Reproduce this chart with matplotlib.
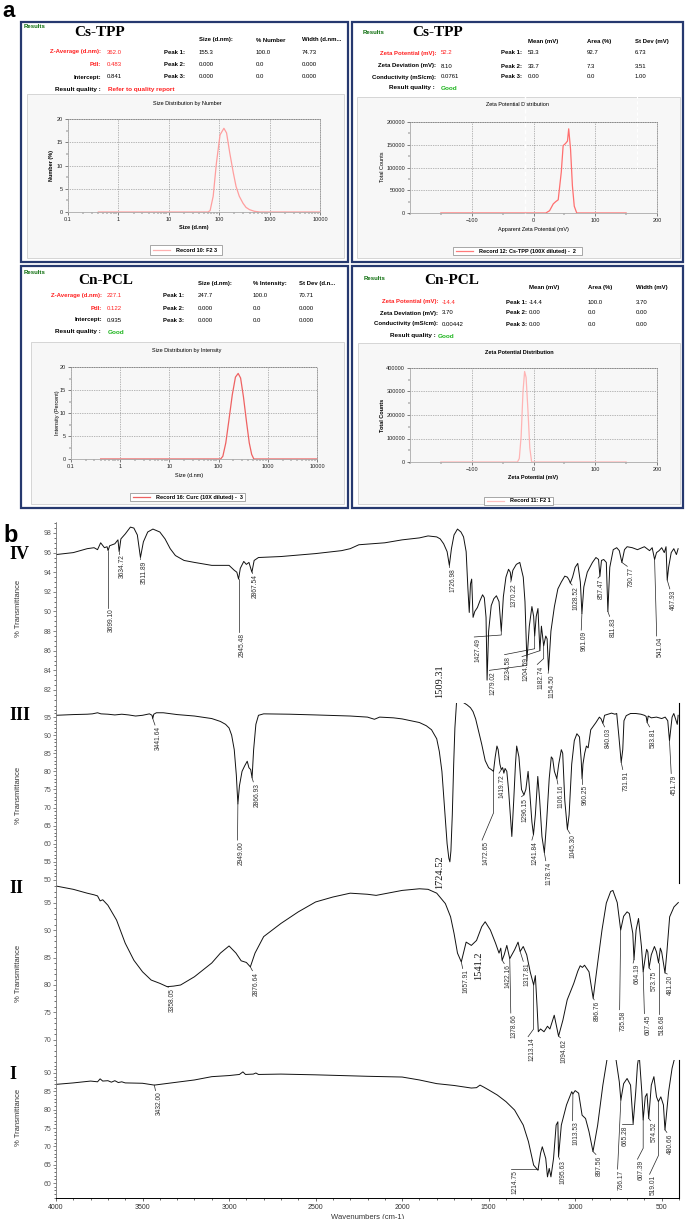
import numpy as np
import matplotlib
matplotlib.use("Agg")
import matplotlib.pyplot as plt
from matplotlib.patches import Rectangle
from matplotlib.lines import Line2D
from matplotlib.transforms import offset_copy
from matplotlib.ticker import MultipleLocator

plt.rcParams['font.family'] = ['Liberation Sans', 'DejaVu Sans']

# ---------------- a: size / zeta data ----------------
num_size = [0.4, 60, 66, 76, 88, 104, 124, 140, 162, 190, 216, 250, 296, 340, 400, 500, 640, 10000]
num_pct = [0, 0, 0.3, 3.4, 10.5, 16.6, 18.0, 17.0, 12.7, 8.5, 5.5, 3.4, 1.9, 1.0, 0.5, 0.15, 0, 0]
int_size = [0.4, 110, 122, 140, 160, 190, 220, 250, 280, 320, 370, 420, 470, 520, 10000]
int_pct = [0, 0, 0.6, 3.5, 8.0, 14.0, 17.8, 18.6, 17.6, 13.5, 8.0, 3.5, 1.0, 0, 0]
zeta_cs_mv = [-150, 20, 26, 32, 36, 40, 45, 48, 52, 55, 57, 60, 63, 66, 70, 150]
zeta_cs_counts = [0, 0, 5000, 20000, 25000, 29000, 90000, 148000, 153000, 158000, 185000,
                  140000, 60000, 15000, 0, 0]
zeta_cn_mv = [-150, -26, -23, -20, -17, -14.4, -12, -9, -6, -3, 150]
zeta_cn_counts = [0, 0, 15000, 110000, 300000, 385000, 360000, 220000, 60000, 0, 0]

size_labels = ['Z-Average (d.nm):', 'PdI:', 'Intercept:']
zeta_labels = ['Zeta Potential (mV):', 'Zeta Deviation (mV):', 'Conductivity (mS/cm):']
cs_size_values = ['362.0', '0.483', '0.841']
cs_size_heads = ['Size (d.nm):', '% Number', 'Width (d.nm...']
cs_size_peaks = [['155.3', '100.0', '74.73'], ['0.000', '0.0', '0.000'], ['0.000', '0.0', '0.000']]
cs_zeta_values = ['52.2', '8.10', '0.0761']
cs_zeta_heads = ['Mean (mV)', 'Area (%)', 'St Dev (mV)']
cs_zeta_peaks = [['53.3', '92.7', '6.73'], ['33.7', '7.3', '3.51'], ['0.00', '0.0', '1.00']]
cn_size_values = ['227.1', '0.122', '0.935']
cn_size_heads = ['Size (d.nm):', '% Intensity:', 'St Dev (d.n...']
cn_size_peaks = [['247.7', '100.0', '70.71'], ['0.000', '0.0', '0.000'], ['0.000', '0.0', '0.000']]
cn_zeta_values = ['-14.4', '3.70', '0.00442']
cn_zeta_heads = ['Mean (mV)', 'Area (%)', 'Width (mV)']
cn_zeta_peaks = [['-14.4', '100.0', '3.70'], ['0.00', '0.0', '0.00'], ['0.00', '0.0', '0.00']]

# ---------------- b: FTIR spectra ----------------
iv_wn = [4000, 3900, 3820, 3780, 3760, 3742, 3720, 3705, 3699, 3690, 3660, 3642, 3635, 3625, 3600,
         3570, 3550, 3530, 3512, 3495, 3470, 3440, 3400, 3370, 3340, 3310, 3260, 3200, 3100, 3000,
         2970, 2955, 2945, 2935, 2915, 2900, 2885, 2868, 2855, 2830, 2700, 2500, 2350, 2300, 2250,
         2100, 2000, 1900, 1850, 1800, 1780, 1760, 1740, 1727, 1715, 1700, 1680, 1660, 1645, 1630,
         1620, 1612, 1605, 1598, 1590, 1580, 1565, 1550, 1535, 1525, 1515, 1509, 1500, 1485, 1470,
         1455, 1440, 1427, 1415, 1400, 1385, 1375, 1370, 1360, 1340, 1320, 1300, 1290, 1279, 1265,
         1250, 1240, 1234, 1225, 1215, 1204, 1195, 1182, 1170, 1162, 1154, 1140, 1120, 1100, 1080,
         1060, 1045, 1035, 1028, 1015, 1000, 985, 970, 961, 950, 930, 900, 880, 865, 857,
         848, 835, 820, 811, 800, 780, 760, 745, 730, 715, 700, 670, 640, 600, 570,
         555, 541, 530, 515, 500, 485, 475, 468, 460, 445, 430, 415, 405]
iv_t = [95.8, 96.0, 96.4, 96.5, 96.3, 97.0, 96.5, 96.6, 96.2, 96.7, 96.9, 97.3, 96.1, 97.4, 97.9,
        98.6, 98.5, 97.8, 95.5, 97.1, 98.1, 98.4, 98.1, 97.4, 96.4, 95.7, 95.2, 95.0, 94.7, 94.7,
        94.2, 94.0, 93.3, 94.4, 95.1, 94.8, 95.0, 94.0, 95.2, 95.5, 95.6, 95.9, 96.2, 96.4, 96.8,
        97.0, 97.3, 97.5, 97.7, 97.6, 97.4, 96.9, 96.1, 94.7, 96.4, 97.8, 98.4, 98.1, 97.6, 96.1,
        92.4, 89.9, 92.8, 93.3, 89.4, 90.0, 90.4, 91.1, 91.7, 91.4, 89.4, 83.0, 88.0, 90.6, 91.3,
        91.6, 91.0, 88.0, 91.5, 93.5, 94.3, 94.0, 93.2, 94.2, 94.8, 95.0, 93.5, 91.0, 85.0, 88.5,
        90.5, 89.5, 87.5, 89.5, 90.3, 86.0, 88.5, 86.5, 87.5, 87.2, 84.0, 88.0, 90.5, 92.3, 93.0,
        93.6, 93.5, 93.2, 92.9, 93.5, 94.5, 94.9, 93.0, 89.8, 92.5, 94.0, 95.0, 95.5, 95.3, 93.6,
        95.2, 95.3, 95.0, 90.0, 94.5, 96.3, 96.5, 96.2, 95.0, 96.3, 96.6, 96.5, 96.3, 96.6, 96.2,
        96.5, 95.3, 96.0, 96.2, 96.5, 96.0, 96.6, 93.2, 94.5, 96.0, 96.4, 95.8, 96.4]

iii_wn = [4000, 3900, 3820, 3790, 3760, 3740, 3700, 3660, 3620, 3580, 3540, 3500, 3460, 3445, 3441,
          3435, 3420, 3380, 3300, 3200, 3100, 3050, 3020, 3000, 2985, 2970, 2958, 2949, 2940, 2925,
          2910, 2895, 2885, 2875, 2867, 2858, 2845, 2830, 2800, 2650, 2500, 2300, 2200, 2160, 2130,
          2050, 2000, 1950, 1900, 1860, 1830, 1800, 1785, 1770, 1755, 1740, 1730, 1724, 1718, 1710,
          1702, 1695, 1685, 1665, 1645, 1625, 1605, 1590, 1575, 1560, 1540, 1520, 1500, 1485, 1472,
          1462, 1452, 1445, 1435, 1427, 1419, 1412, 1405, 1395, 1385, 1375, 1366, 1355, 1345, 1338,
          1325, 1310, 1296, 1285, 1272, 1262, 1250, 1241, 1230, 1216, 1205, 1192, 1178, 1165, 1150,
          1138, 1130, 1120, 1106, 1095, 1080, 1072, 1060, 1045, 1035, 1020, 1005, 990, 975, 965,
          960, 955, 945, 935, 925, 910, 880, 860, 850, 840, 830, 810, 790, 770, 760,
          748, 734, 725, 718, 705, 680, 650, 620, 600, 590, 584, 578, 560, 530, 500,
          480, 465, 455, 448, 440, 430, 420, 410, 405]
iii_t = [95.5, 95.7, 95.8, 95.9, 96.2, 95.9, 95.8, 95.6, 95.8, 95.6, 95.3, 95.5, 95.9, 95.5, 94.6,
         95.8, 96.2, 96.2, 95.7, 95.3, 94.6, 93.8, 93.0, 92.0, 90.0, 86.0, 79.0, 71.0, 76.0, 80.0,
         81.5, 82.8, 81.0, 80.5, 78.2, 86.0, 93.0, 95.5, 95.9, 95.8, 95.6, 95.3, 95.0, 94.4, 95.0,
         94.8, 94.5, 94.0, 93.5, 92.6, 91.5, 89.0, 85.5, 80.0, 70.0, 60.0, 56.0, 55.0, 58.0, 68.0,
         82.0, 92.0, 99.5, 99.5, 99.0, 98.4, 97.6, 96.5, 94.5, 91.5, 87.5, 83.0, 81.0, 80.5, 80.0,
         84.0, 87.0, 86.0, 82.0, 80.5, 81.0, 79.5, 80.8, 80.0, 75.0, 68.0, 62.0, 72.0, 82.0, 87.0,
         84.0, 75.0, 73.5, 75.0, 80.0, 74.0, 66.0, 62.5, 68.0, 78.6, 72.0, 62.0, 57.5, 66.0, 78.0,
         84.0, 83.5, 80.0, 78.0, 82.0, 86.0, 85.0, 72.0, 64.0, 68.0, 82.0, 88.5, 90.4, 89.5, 83.0,
         77.9, 82.0, 85.0, 87.0, 86.5, 91.5, 93.5, 95.0, 94.5, 93.3, 95.5, 95.8, 96.1, 95.8, 96.0,
         90.0, 82.5, 86.0, 94.0, 95.4, 96.0, 96.0, 95.8, 95.5, 95.2, 93.5, 95.3, 94.8, 95.0, 94.6,
         95.0, 94.0, 88.5, 91.5, 95.0, 96.0, 94.5, 93.0, 95.5]

ii_wn = [4000, 3900, 3820, 3780, 3760, 3745, 3730, 3715, 3700, 3650, 3600, 3550, 3500, 3450, 3400,
         3358, 3320, 3280, 3200, 3100, 3050, 3000, 2960, 2930, 2900, 2877, 2850, 2800, 2750, 2700,
         2600, 2500, 2400, 2300, 2200, 2150, 2100, 2000, 1900, 1850, 1800, 1750, 1720, 1700, 1680,
         1658, 1630, 1600, 1570, 1540, 1520, 1490, 1460, 1440, 1430, 1422, 1410, 1395, 1378, 1350,
         1330, 1318, 1300, 1280, 1260, 1240, 1230, 1220, 1213, 1200, 1180, 1160, 1146, 1121, 1096,
         1071, 1046, 1008, 985, 971, 958, 946, 920, 896, 870, 845, 820, 795, 782, 757,
         737, 720, 700, 687, 667, 660, 648, 634, 617, 607, 595, 587, 580, 573, 560,
         542, 530, 518, 508, 500, 481, 470, 454, 429, 404]
ii_t = [98.0, 97.4, 96.7, 96.4, 96.2, 95.3, 95.5, 95.0, 94.5, 91.8, 87.6, 84.5, 82.4, 80.9, 80.3,
        79.7, 79.8, 80.0, 81.5, 84.0, 85.8, 87.1, 85.8, 84.4, 84.1, 83.3, 85.8, 88.8, 90.0, 91.2,
        93.3, 95.1, 96.0, 96.7, 96.5, 96.3, 96.6, 97.2, 97.5, 97.4, 96.7, 94.8, 92.4, 89.4, 85.8,
        84.2, 87.8, 87.2, 88.1, 90.6, 91.5, 90.0, 87.6, 85.8, 86.7, 84.5, 85.5, 87.2, 84.8, 86.4,
        87.8, 86.1, 87.0, 85.5, 82.4, 80.0, 81.7, 76.0, 71.5, 72.0, 71.5, 72.5, 72.0, 74.5, 70.7,
        73.6, 77.3, 80.3, 82.5, 83.5, 83.2, 83.6, 82.4, 77.6, 84.0, 90.0, 94.9, 97.0, 97.2, 95.0,
        90.0, 92.5, 93.3, 93.0, 89.4, 84.6, 90.0, 92.1, 87.0, 82.4, 85.0, 86.5, 86.0, 83.1, 85.5,
        87.0, 86.0, 84.0, 86.7, 86.0, 82.2, 86.0, 92.4, 94.2, 95.0]

i_wn = [4000, 3900, 3800, 3760, 3745, 3730, 3700, 3680, 3660, 3640, 3620, 3600, 3500, 3432, 3300,
        3200, 3100, 3000, 2940, 2920, 2905, 2860, 2845, 2830, 2700, 2500, 2200, 2000, 1900, 1800,
        1700, 1600, 1570, 1550, 1530, 1500, 1450, 1400, 1350, 1300, 1270, 1240, 1215, 1200, 1190,
        1170, 1160, 1150, 1140, 1125, 1110, 1100, 1096, 1080, 1050, 1020, 1013, 1000, 980, 960,
        940, 920, 897, 870, 840, 815, 790, 765, 745, 736, 720, 700, 680, 665, 650,
        640, 630, 615, 607, 595, 585, 575, 560, 545, 530, 519, 505, 490, 481, 460,
        440, 420, 405]
i_t = [86.9, 87.3, 87.8, 87.6, 88.4, 87.8, 87.9, 87.5, 87.9, 87.4, 87.6, 87.3, 87.2, 86.7, 87.5,
       88.1, 89.0, 89.3, 89.6, 90.3, 89.6, 89.7, 90.0, 89.6, 89.7, 89.5, 89.1, 88.9, 88.1, 87.1,
       86.6, 85.9, 86.0, 86.7, 86.2, 85.4, 84.0, 82.2, 79.9, 75.8, 71.3, 64.9, 63.5, 68.1, 69.9,
       66.7, 61.7, 64.0, 61.7, 66.7, 75.8, 76.7, 67.2, 75.8, 81.3, 84.9, 84.3, 85.2, 84.5, 78.5,
       77.6, 74.0, 68.6, 75.8, 86.7, 94.0, 97.0, 94.0, 87.6, 82.6, 87.1, 88.5, 86.7, 76.2, 84.9,
       92.2, 95.0, 84.9, 77.2, 83.5, 84.4, 77.6, 86.7, 89.0, 83.5, 82.2, 83.5, 81.3, 74.5, 84.9,
       91.3, 95.0, 95.5]

# peak labels (text, peak wavenumber)
iv_peaks = [('3699.10', 3699), ('3634.72', 3635), ('3511.89', 3512), ('2945.48', 2945),
            ('2867.54', 2868), ('1726.98', 1727), ('1427.49', 1427), ('1370.22', 1370),
            ('1279.02', 1279), ('1234.58', 1234), ('1204.59', 1204), ('1182.74', 1182),
            ('1154.50', 1154), ('1028.52', 1028), ('961.09', 961), ('857.47', 857),
            ('811.83', 811), ('730.77', 730), ('541.04', 541), ('467.93', 468)]
iii_peaks = [('3441.64', 3441), ('2949.00', 2949), ('2866.93', 2867), ('1472.65', 1472),
             ('1419.72', 1419), ('1296.15', 1296), ('1241.84', 1241), ('1178.74', 1178),
             ('1106.16', 1106), ('1045.30', 1045), ('960.25', 960), ('840.03', 840),
             ('731.91', 734), ('583.81', 584), ('451.79', 455)]
ii_peaks = [('3358.05', 3358), ('2876.64', 2877), ('1657.91', 1658), ('1422.16', 1422),
            ('1378.66', 1378), ('1317.81', 1318), ('1213.14', 1240), ('1094.62', 1096),
            ('896.76', 896), ('735.58', 737), ('664.19', 660), ('607.45', 607),
            ('573.75', 573), ('518.68', 518), ('481.20', 481)]
i_peaks = [('3432.00', 3432), ('1214.75', 1214), ('1095.63', 1096), ('1013.53', 1013),
           ('897.56', 897), ('736.17', 736), ('665.28', 665), ('607.39', 607),
           ('574.52', 575), ('519.01', 519), ('480.66', 481)]
# label placement: (leader end wavenumber, text top, bend level or None)
iv_place = [(3699, 90.4, None), (3635, 95.9, None), (3512, 95.3, None), (2945, 87.9, None),
            (2868, 93.9, None), (1727, 94.5, None), (1583, 87.4, 87.6), (1372, 93.0, None),
            (1496, 84.0, 84.5), (1408, 85.6, 86.2), (1307, 85.4, 86.0), (1219, 84.6, 85.2),
            (1156, 83.7, None), (1018, 92.7, None), (965, 88.1, None), (868, 93.4, None),
            (801, 89.5, None), (699, 94.6, None), (529, 87.5, None), (453, 92.3, None)]
iii_place = [(3428, 92.8, None), (2951, 61.0, None), (2860, 77.1, None), (1538, 61.0, 68.5),
             (1440, 79.5, None), (1310, 73.0, None), (1250, 61.0, None), (1170, 55.3, None),
             (1100, 76.5, None), (1030, 62.8, None), (960, 76.6, None), (830, 92.3, None),
             (725, 80.5, None), (570, 92.3, None), (445, 79.4, None)]
ii_place = [(3350, 79.6, None), (2865, 82.6, None), (1650, 83.0, None), (1410, 83.9, None),
            (1372, 74.9, None), (1300, 84.3, None), (1272, 70.6, 72.0), (1085, 70.4, None),
            (890, 77.3, None), (743, 75.5, None), (665, 84.0, None), (600, 74.8, None),
            (565, 82.8, None), (518, 74.8, None), (468, 82.0, None)]
i_place = [(3425, 85.2, None), (1370, 63.8, 63.8), (1090, 66.5, None), (1015, 77.0, None),
           (880, 67.8, None), (755, 63.8, None), (730, 76.0, 76.0), (640, 66.5, 69.5),
           (565, 77.0, None), (570, 62.4, 67.5), (470, 73.8, None)]
# hand-written larger labels: (text, wavenumber, top)
iv_serif = [('1509.31', 1786, 84.6)]
iii_serif = [('1724.52', 1781, 56.9)]
ii_serif = [('1541.2', 1560, 86.1)]

W, H = 685, 1219
RED, GREEN, NAVY = '#ff2020', '#1fb51f', '#26396f'

fig = plt.figure(figsize=(W / 100, H / 100), dpi=100)


def frame(x0, y0, x1, y1):
    return [x0 / W, 1 - y1 / H, (x1 - x0) / W, (y1 - y0) / H]


def ftext(x, y, s, **kw):
    kw.setdefault('va', 'center')
    kw.setdefault('zorder', 6)
    fig.text(x / W, 1 - y / H, s, **kw)


def fbox(x0, y0, x1, y1, **kw):
    fig.add_artist(Rectangle((x0 / W, 1 - y1 / H), (x1 - x0) / W, (y1 - y0) / H,
                             transform=fig.transFigure, **kw))


def fline(xs, ys, **kw):
    fig.add_artist(Line2D([x / W for x in xs], [1 - y / H for y in ys],
                          transform=fig.transFigure, **kw))


def table(L, name, labels, values, colors, heads, peaks, quality, qcol):
    fs = 4.3
    ftext(*L['res'], 'Results', color='#0d6e0d', fontsize=4.3, fontweight='bold')
    ftext(*L['name'], name, family='Liberation Serif', fontweight='bold', fontsize=11, ha='center')
    for x, h in zip(L['cols'], heads):
        ftext(x, L['head'], h, fontsize=fs, fontweight='bold')
    for i, y in enumerate(L['rows']):
        ftext(L['lab'], y, labels[i], ha='right', color=colors[i], fontsize=fs, fontweight='bold')
        ftext(L['val'], y, values[i], color=colors[i], fontsize=fs)
        ftext(L['peak'], y, 'Peak %d:' % (i + 1), ha='right', fontsize=fs, fontweight='bold')
        for x, v in zip(L['cols'], peaks[i]):
            ftext(x, y, v, fontsize=fs)
    ftext(L['qlab'], L['q'], 'Result quality :', ha='right', fontsize=fs + 0.3, fontweight='bold')
    ftext(L['qx'], L['q'], quality, color=qcol, fontsize=fs + 0.3, fontweight='bold')


def dist_axes(px):
    ax = fig.add_axes(frame(*px))
    ax.set_zorder(3)
    ax.set_facecolor('none')
    ax.grid(True, ls=(0, (1, 1.5)), color='#777', lw=0.5)
    for s in ['top', 'right']:
        ax.spines[s].set_linestyle((0, (1, 1.5)))
        ax.spines[s].set_color('#777')
        ax.spines[s].set_linewidth(0.5)
    for s in ['left', 'bottom']:
        ax.spines[s].set_color('#aaa')
        ax.spines[s].set_linewidth(0.6)
    ax.tick_params(labelsize=4, length=2, width=0.4, pad=1.5, colors='#222')
    ax.tick_params(which='minor', length=1.2, width=0.3)
    return ax


def legend_box(x0, y0, x1, y1, text, color):
    fbox(x0, y0, x1, y1, fc='white', ec='#999', lw=0.6, zorder=4)
    fline([x0 + 3, x0 + 20], [(y0 + y1) / 2] * 2, color=color, lw=0.9, zorder=5)
    ftext(x0 + 26, (y0 + y1) / 2, text, fontsize=4, fontweight='bold')


# ---------------- part a ----------------
ftext(2, 17, 'a', fontsize=16, fontweight='bold', va='baseline')
for x0, y0, x1, y1 in [(21, 22, 348, 262), (352, 22, 683, 262), (21, 266, 348, 508), (352, 266, 683, 508)]:
    fbox(x0, y0, x1, y1, fc='white', ec=NAVY, lw=1.6, zorder=1)
for x0, y0, x1, y1 in [(27, 94, 344, 258), (357, 97, 680, 258), (31, 342, 344, 504), (358, 343, 680, 504)]:
    fbox(x0, y0, x1, y1, fc='#f7f7f7', ec='#cfcfcf', lw=0.6, zorder=2)

table(dict(res=(24, 27), name=(100, 33), head=40, cols=[199, 256, 302], rows=[52, 64, 77],
           lab=101, val=107, peak=185, q=89, qlab=101, qx=108),
      'Cs-TPP', size_labels, cs_size_values, [RED, RED, 'black'], cs_size_heads, cs_size_peaks,
      'Refer to quality report', RED)
table(dict(res=(363, 32), name=(438, 33), head=41, cols=[528, 587, 635], rows=[53, 66, 77],
           lab=436, val=441, peak=522, q=88, qlab=435, qx=441),
      'Cs-TPP', zeta_labels, cs_zeta_values, [RED, 'black', 'black'], cs_zeta_heads, cs_zeta_peaks,
      'Good', GREEN)
table(dict(res=(24, 272), name=(106, 280), head=284, cols=[198, 253, 299], rows=[295, 308, 320],
           lab=102, val=107, peak=184, q=332, qlab=101, qx=108),
      'Cn-PCL', size_labels, cn_size_values, [RED, RED, 'black'], cn_size_heads, cn_size_peaks,
      'Good', GREEN)
table(dict(res=(364, 278), name=(452, 281), head=288, cols=[529, 588, 636], rows=[302, 313, 324],
           lab=438, val=442, peak=527, q=336, qlab=436, qx=438),
      'Cn-PCL', zeta_labels, cn_zeta_values, [RED, 'black', 'black'], cn_zeta_heads, cn_zeta_peaks,
      'Good', GREEN)

# size distribution by number
ax = dist_axes((68, 119, 320, 212))
ax.set_xscale('log')
ax.set_xlim(0.1, 10000)
ax.set_ylim(0, 20)
ax.set_xticks([0.1, 1, 10, 100, 1000, 10000], ['0.1', '1', '10', '100', '1000', '10000'])
ax.set_yticks([0, 5, 10, 15, 20])
ax.yaxis.set_minor_locator(MultipleLocator(2.5))
ax.plot(num_size, num_pct, color='#ff9e9e', lw=0.9, clip_on=False)
ftext(187, 103, 'Size Distribution by Number', fontsize=4, ha='center')
ftext(194, 228, 'Size (d.nm)', fontsize=4, ha='center', fontweight='bold')
ftext(52, 165, 'Number (%)', fontsize=4, ha='center', rotation=90, fontweight='bold')
legend_box(150, 245, 222, 255, 'Record 10: F2 3', '#ffb0b0')

# zeta Cs-TPP
ax = dist_axes((410, 122, 657, 213))
ax.set_xlim(-200, 200)
ax.set_ylim(0, 200000)
ax.set_xticks([-100, 0, 100, 200])
ax.set_yticks([0, 50000, 100000, 150000, 200000])
ax.xaxis.set_minor_locator(MultipleLocator(50))
ax.yaxis.set_minor_locator(MultipleLocator(25000))
ax.ticklabel_format(style='plain', axis='y')
ax.plot(zeta_cs_mv, zeta_cs_counts, color='#ff6f6f', lw=0.9)
ftext(518, 104, 'Zeta Potential Distribution', fontsize=4, ha='center')
ftext(533, 229, 'Apparent Zeta Potential (mV)', fontsize=4, ha='center')
ftext(382, 167, 'Total Counts', fontsize=4, ha='center', rotation=90)
legend_box(453, 247, 582, 255, 'Record 12: Cs-TPP (100X diluted) -  2', '#ff7a7a')
# scan artefacts in the original screenshot
fline([525, 525], [95, 215], color='white', lw=1.0, ls=(0, (3, 2)), zorder=7)
fline([637, 637], [73, 170], color='white', lw=0.8, ls=(0, (3, 2)), zorder=7)

# size distribution by intensity
ax = dist_axes((71, 367, 317, 459))
ax.set_xscale('log')
ax.set_xlim(0.1, 10000)
ax.set_ylim(0, 20)
ax.set_xticks([0.1, 1, 10, 100, 1000, 10000], ['0.1', '1', '10', '100', '1000', '10000'])
ax.set_yticks([0, 5, 10, 15, 20])
ax.yaxis.set_minor_locator(MultipleLocator(2.5))
ax.plot(int_size, int_pct, color='#ee6262', lw=0.9, clip_on=False)
ftext(187, 350, 'Size Distribution by Intensity', fontsize=4, ha='center')
ftext(189, 475, 'Size (d.nm)', fontsize=4, ha='center')
ftext(57, 413, 'Intensity (Percent)', fontsize=4, ha='center', rotation=90)
legend_box(130, 493, 245, 501, 'Record 16: Curc (10X diluted) -  3', '#ee6262')

# zeta Cn-PCL
ax = dist_axes((410, 368, 657, 462))
ax.set_xlim(-200, 200)
ax.set_ylim(0, 400000)
ax.set_xticks([-100, 0, 100, 200])
ax.set_yticks([0, 100000, 200000, 300000, 400000])
ax.xaxis.set_minor_locator(MultipleLocator(50))
ax.yaxis.set_minor_locator(MultipleLocator(50000))
ax.ticklabel_format(style='plain', axis='y')
ax.plot(zeta_cn_mv, zeta_cn_counts, color='#ffb4b4', lw=0.9)
ftext(519, 352, 'Zeta Potential Distribution', fontsize=4, ha='center', fontweight='bold')
ftext(533, 478, 'Zeta Potential (mV)', fontsize=4, ha='center', fontweight='bold')
ftext(383, 415, 'Total Counts', fontsize=4, ha='center', rotation=90, fontweight='bold')
legend_box(484, 497, 553, 505, 'Record 11: F2 1', '#ffc0c0')

# ---------------- part b ----------------
ftext(3, 542, 'b', fontsize=17, fontweight='bold', va='baseline')


def spectrum(px, wn, t, peaks, place, serif, ylim, ymaj, ymin, roman, roman_y, lab_y,
             right=False, bottom=False):
    ax = fig.add_axes(frame(56, px[0], 679, px[1]))
    ax.set_facecolor('none')
    ax.set_xlim(4000, 400)
    ax.set_ylim(*ylim)
    wn = np.array(wn, float)
    t = np.array(t, float)
    ax.plot(wn, t, color='#111', lw=0.7)
    tr = offset_copy(ax.transData, fig=fig, x=3.5, y=-1, units='dots')
    for (lab, pk), (lead, top, bend) in zip(peaks, place):
        cv = np.interp(pk, wn[::-1], t[::-1])
        xs, ys = [pk], [cv]
        if bend is not None:
            xs.append(pk)
            ys.append(bend)
        xs.append(lead)
        ys.append(top)
        ax.plot(xs, ys, color='#222', lw=0.5, clip_on=False)
        ax.text(lead, top, lab, transform=tr, rotation=90, ha='center', va='top',
                fontsize=4.8, color='#333', clip_on=False)
    for lab, x, top in serif:
        ax.text(x, top, lab, rotation=90, ha='center', va='top', fontsize=7.5,
                family='Liberation Serif', color='#111')
    for s in ['top', 'right', 'bottom']:
        ax.spines[s].set_visible(False)
    ax.spines['left'].set_linestyle((0, (1, 1)))
    ax.spines['left'].set_color('#777')
    ax.spines['left'].set_linewidth(0.6)
    if right:
        ax.spines['right'].set_visible(True)
        ax.spines['right'].set_linewidth(0.8)
    ax.set_yticks(ymaj)
    ax.yaxis.set_minor_locator(MultipleLocator(ymin))
    ax.tick_params(axis='y', labelsize=5, length=2, width=0.5, colors='#555', pad=1.5)
    ax.tick_params(axis='y', which='minor', length=1.2, width=0.4)
    ax.tick_params(axis='y', which='both', right=False)
    if bottom:
        ax.spines['bottom'].set_visible(True)
        ax.spines['bottom'].set_linewidth(0.7)
        ax.set_xticks([4000, 3500, 3000, 2500, 2000, 1500, 1000, 500])
        ax.xaxis.set_minor_locator(MultipleLocator(100))
        ax.tick_params(axis='x', labelsize=5, length=2.5, width=0.5, colors='#333', pad=2)
        ax.tick_params(axis='x', which='minor', length=1.3, width=0.4)
        ax.set_xlabel('Wavenumbers (cm-1)', fontsize=5.5, labelpad=2, color='#333')
    else:
        ax.set_xticks([])
    ftext(9, roman_y, roman, family='Liberation Serif', fontweight='bold', fontsize=13, va='baseline')
    ftext(18, lab_y, '% Transmittance', fontsize=5.5, rotation=90, ha='center', color='#333')
    return ax


spectrum((522, 703), iv_wn, iv_t, iv_peaks, iv_place, iv_serif, (80.67, 99.12),
         range(82, 99, 2), 0.5, 'IV', 559, 608)
spectrum((703, 883), iii_wn, iii_t, iii_peaks, iii_place, iii_serif, (49.14, 98.9),
         range(50, 96, 5), 1, 'III', 720, 795, right=True)
spectrum((883, 1060), ii_wn, ii_t, ii_peaks, ii_place, ii_serif, (66.36, 98.55),
         range(70, 96, 5), 1, 'II', 893, 973)
spectrum((1060, 1198), i_wn, i_t, i_peaks, i_place, [], (55.94, 93.54),
         range(60, 91, 5), 1, 'I', 1079, 1117, right=True, bottom=True)

fig.savefig('out.png', dpi=100)
